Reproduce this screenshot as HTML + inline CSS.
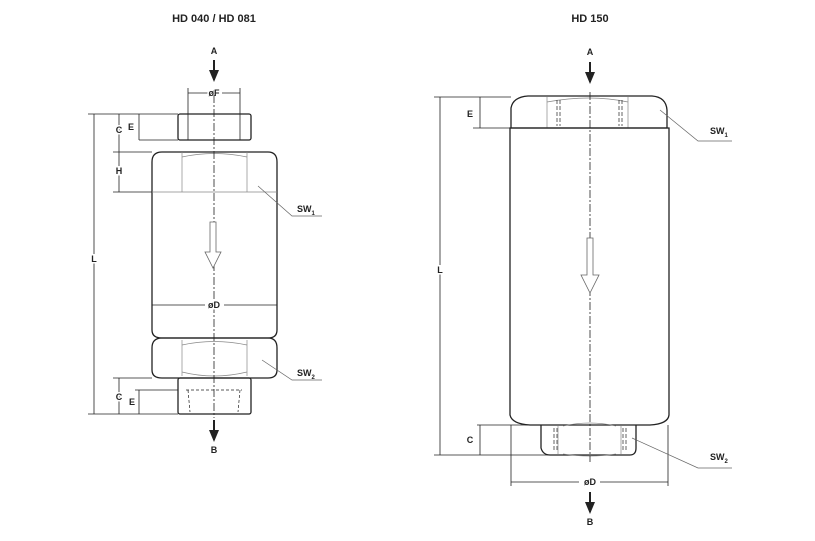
<!DOCTYPE html>
<html><head><style>body{margin:0;background:#fff}svg{display:block}text{font-family:"Liberation Sans",sans-serif;font-weight:bold;fill:#222}.k{stroke:#fff!important;stroke-width:3px;paint-order:stroke}</style></head><body>
<svg width="815" height="541" viewBox="0 0 815 541" xmlns="http://www.w3.org/2000/svg">
<defs><marker id="ar" markerWidth="6" markerHeight="6" refX="5" refY="3" orient="auto"><path d="M0,0.5 L6,3 L0,5.5z" fill="#222"/></marker></defs>
<text x="214" y="22" font-size="11" text-anchor="middle">HD 040 / HD 081</text>
<text x="590" y="22" font-size="11" text-anchor="middle">HD 150</text>
<g stroke="#222" fill="none" stroke-width="1.3">
<text x="214" y="54" font-size="9" text-anchor="middle" stroke="none">A</text>
<line x1="214" y1="60" x2="214" y2="80" stroke-width="2" marker-end="url(#ar)"/>
<line x1="188" y1="88" x2="188" y2="140" stroke-width="0.8"/><line x1="240" y1="88" x2="240" y2="140" stroke-width="0.8"/>
<line x1="188" y1="93" x2="208" y2="93" stroke-width="0.8"/><line x1="222" y1="93" x2="240" y2="93" stroke-width="0.8"/>
<text x="214" y="96" font-size="9" text-anchor="middle" class="k">øF</text>
<rect x="178" y="114" width="73" height="26" rx="2"/>
<line x1="186" y1="140" x2="242" y2="140" stroke-dasharray="3,2" stroke-width="0.7"/>
<path d="M152,162 Q152,152 162,152 L268,152 Q277,152 277,162 L277,330 Q277,338 268,338 L162,338 Q152,338 152,330Z"/>
<path d="M182,152 L182,192 M247,152 L247,192 M152,192 L277,192 M182,157 Q214,150 247,157" stroke-width="0.7" stroke="#888"/>
<path d="M152,348 Q152,338 162,338 L268,338 Q277,338 277,348 L277,370 Q277,378 268,378 L162,378 Q152,378 152,370Z"/>
<path d="M182,340 L182,376 M247,340 L247,376 M182,345 Q214,338 247,345 M182,372 Q214,380 247,372" stroke-width="0.7" stroke="#888"/>
<rect x="178" y="378" width="73" height="36" rx="2"/>
<path d="M186,390 L242,390 M188,390 L190,412 M240,390 L238,412" stroke-dasharray="3,2" stroke-width="0.7"/>
<line x1="214" y1="95" x2="214" y2="418" stroke-dasharray="8,2,2,2" stroke-width="0.8"/>
<path d="M210,222 L210,252 L205,252 L213,268 L221,252 L216,252 L216,222Z" stroke-width="0.8" stroke="#666" fill="#fff"/>
<line x1="152" y1="305" x2="205" y2="305" stroke-width="0.8"/><line x1="224" y1="305" x2="277" y2="305" stroke-width="0.8"/>
<text x="214" y="308" font-size="9" text-anchor="middle" class="k">øD</text>
<line x1="88" y1="114" x2="178" y2="114" stroke-width="0.8"/><line x1="88" y1="414" x2="178" y2="414" stroke-width="0.8"/>
<line x1="94" y1="114" x2="94" y2="414" stroke-width="0.8"/>
<text x="94" y="262" font-size="9" text-anchor="middle" class="k">L</text>
<line x1="113" y1="152" x2="152" y2="152" stroke-width="0.8"/><line x1="113" y1="192" x2="152" y2="192" stroke-width="0.8"/>
<line x1="139" y1="140" x2="178" y2="140" stroke-width="0.8"/>
<line x1="119" y1="114" x2="119" y2="192" stroke-width="0.8"/>
<text x="119" y="133" font-size="9" text-anchor="middle" class="k">C</text>
<text x="119" y="174" font-size="9" text-anchor="middle" class="k">H</text>
<line x1="139" y1="114" x2="139" y2="140" stroke-width="0.8"/>
<text x="131" y="130" font-size="9" text-anchor="middle" class="k">E</text>
<line x1="113" y1="378" x2="152" y2="378" stroke-width="0.8"/><line x1="135" y1="390" x2="178" y2="390" stroke-width="0.8"/>
<line x1="119" y1="378" x2="119" y2="414" stroke-width="0.8"/>
<text x="119" y="400" font-size="9" text-anchor="middle" class="k">C</text>
<line x1="139" y1="390" x2="139" y2="414" stroke-width="0.8"/>
<text x="132" y="405" font-size="9" text-anchor="middle" class="k">E</text>
<line x1="214" y1="420" x2="214" y2="440" stroke-width="2" marker-end="url(#ar)"/>
<text x="214" y="453" font-size="9" text-anchor="middle" stroke="none">B</text>
<path d="M258,186 L292,216 L322,216" stroke-width="0.7" stroke="#666"/>
<text x="297" y="212" font-size="9" stroke="none">SW<tspan font-size="6" dy="3">1</tspan></text>
<path d="M262,360 L292,380 L322,380" stroke-width="0.7" stroke="#666"/>
<text x="297" y="376" font-size="9" stroke="none">SW<tspan font-size="6" dy="3">2</tspan></text>
<text x="590" y="55" font-size="9" text-anchor="middle" stroke="none">A</text>
<line x1="590" y1="62" x2="590" y2="82" stroke-width="2" marker-end="url(#ar)"/>
<path d="M511,128 L511,108 Q513,97 528,96 L652,96 Q666,97 667,110 L667,128Z"/>
<path d="M547,97 L547,128 M628,97 L628,128 M547,102 Q590,94 628,102" stroke-width="0.7" stroke="#888"/>
<path d="M557,100 L557,126 M560,100 L560,126 M619,100 L619,126 M622,100 L622,126" stroke-dasharray="4,2" stroke-width="0.7"/>
<path d="M510,128 L510,415 Q512,424 530,425 L650,425 Q668,424 669,415 L669,128Z"/>
<path d="M541,425 L541,448 Q543,455 550,455 L630,455 Q636,455 636,448 L636,425" />
<path d="M558,426 L558,454 M621,426 L621,454 M563,426 Q590,420 616,426 M563,454 Q590,458 616,454" stroke-width="0.7" stroke="#888"/>
<path d="M554,428 L554,452 M557,428 L557,452 M623,428 L623,452 M626,428 L626,452" stroke-dasharray="4,2" stroke-width="0.7"/>
<line x1="590" y1="92" x2="590" y2="462" stroke-dasharray="8,2,2,2" stroke-width="0.8"/>
<path d="M587,238 L587,275 L581,275 L590,293 L599,275 L593,275 L593,238Z" stroke-width="0.8" stroke="#666" fill="#fff"/>
<line x1="434" y1="97" x2="511" y2="97" stroke-width="0.8"/><line x1="434" y1="455" x2="555" y2="455" stroke-width="0.8"/>
<line x1="440" y1="97" x2="440" y2="455" stroke-width="0.8"/>
<text x="440" y="273" font-size="9" text-anchor="middle" class="k">L</text>
<line x1="473" y1="128" x2="511" y2="128" stroke-width="0.8"/>
<line x1="480" y1="97" x2="480" y2="128" stroke-width="0.8"/>
<text x="470" y="117" font-size="9" text-anchor="middle" class="k">E</text>
<line x1="477" y1="425" x2="541" y2="425" stroke-width="0.8"/>
<line x1="480" y1="425" x2="480" y2="455" stroke-width="0.8"/>
<text x="470" y="443" font-size="9" text-anchor="middle" class="k">C</text>
<line x1="511" y1="425" x2="511" y2="486" stroke-width="0.8"/><line x1="668" y1="425" x2="668" y2="486" stroke-width="0.8"/>
<line x1="511" y1="482" x2="579" y2="482" stroke-width="0.8"/><line x1="600" y1="482" x2="668" y2="482" stroke-width="0.8"/>
<text x="590" y="485" font-size="9" text-anchor="middle" class="k">øD</text>
<line x1="590" y1="492" x2="590" y2="512" stroke-width="2" marker-end="url(#ar)"/>
<text x="590" y="525" font-size="9" text-anchor="middle" stroke="none">B</text>
<path d="M660,110 L698,141 L732,141" stroke-width="0.7" stroke="#666"/>
<text x="710" y="134" font-size="9" stroke="none">SW<tspan font-size="6" dy="3">1</tspan></text>
<path d="M632,438 L698,468 L732,468" stroke-width="0.7" stroke="#666"/>
<text x="710" y="460" font-size="9" stroke="none">SW<tspan font-size="6" dy="3">2</tspan></text>
</g>
</svg>
</body></html>
